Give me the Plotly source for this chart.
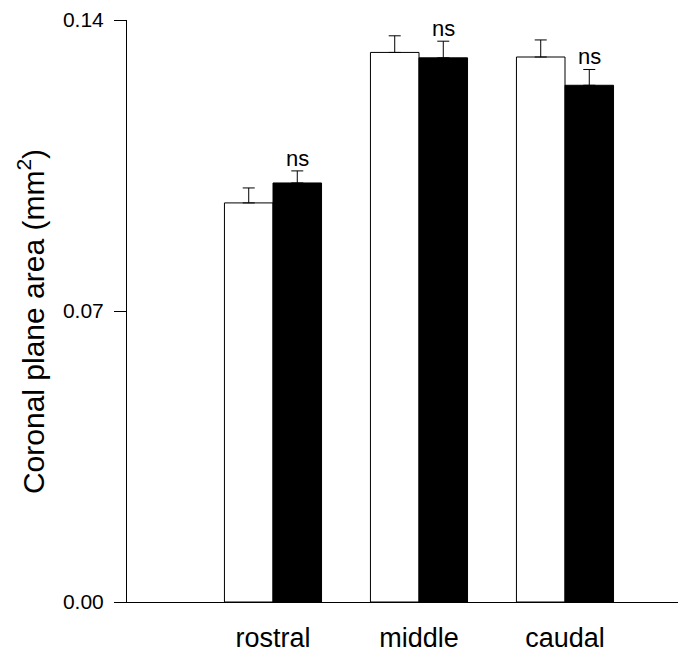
import plotly.graph_objects as go

categories = ["rostral", "middle", "caudal"]
positions = [1, 2, 3]
white_vals = [0.0960, 0.1322, 0.1311]
white_err = [0.0036, 0.0040, 0.0041]
black_vals = [0.1008, 0.1309, 0.1243]
black_err = [0.0029, 0.0040, 0.0038]
sig_labels = ["ns", "ns", "ns"]
y_ticks = [0.0, 0.07, 0.14]
y_tick_text = ["0.00", "0.07", "0.14"]
y_title = "Coronal plane area (mm<sup>2</sup>)"

FONT = "Arial, Liberation Sans, sans-serif"

fig = go.Figure()
fig.add_trace(go.Bar(
    x=positions, y=white_vals, name="control",
    marker=dict(color="white", line=dict(color="black", width=1)),
    error_y=dict(type="data", array=white_err, arrayminus=[0]*3, symmetric=False,
                 color="black", thickness=1, width=6),
))
fig.add_trace(go.Bar(
    x=positions, y=black_vals, name="treated",
    marker=dict(color="black", line=dict(color="black", width=1)),
    error_y=dict(type="data", array=black_err, arrayminus=[0]*3, symmetric=False,
                 color="black", thickness=1, width=6),
))

for p, v, e, s in zip(positions, black_vals, black_err, sig_labels):
    fig.add_annotation(x=p + 0.167, y=v + e, xref="x", yref="y", text=s,
                       showarrow=False, yanchor="bottom", yshift=-2,
                       font=dict(family=FONT, size=22, color="black"))

fig.add_annotation(x=0, y=0.481, xref="paper", yref="paper", text=y_title,
                   textangle=-90, showarrow=False, xanchor="center", yanchor="middle",
                   xshift=-96, font=dict(family=FONT, size=30, color="black"))

fig.update_layout(
    width=678, height=652,
    margin=dict(l=127, r=0, t=20, b=50),
    paper_bgcolor="white", plot_bgcolor="white",
    barmode="group", bargap=0.335, bargroupgap=0,
    showlegend=False,
    font=dict(family=FONT, color="black"),
    xaxis=dict(range=[0, 3.774], tickvals=positions, ticktext=categories,
               showline=True, linecolor="black", linewidth=1, ticks="",
               showgrid=False, zeroline=False, tickfont=dict(size=27),
               ticklabelstandoff=12, automargin=False),
    yaxis=dict(range=[0, 0.14], tickvals=y_ticks, ticktext=y_tick_text,
               showline=True, linecolor="black", linewidth=1, ticks="outside",
               ticklen=12, tickcolor="black", showgrid=False, zeroline=False,
               tickfont=dict(size=21), ticklabelstandoff=6, automargin=False),
)

fig.write_html("out.html")
